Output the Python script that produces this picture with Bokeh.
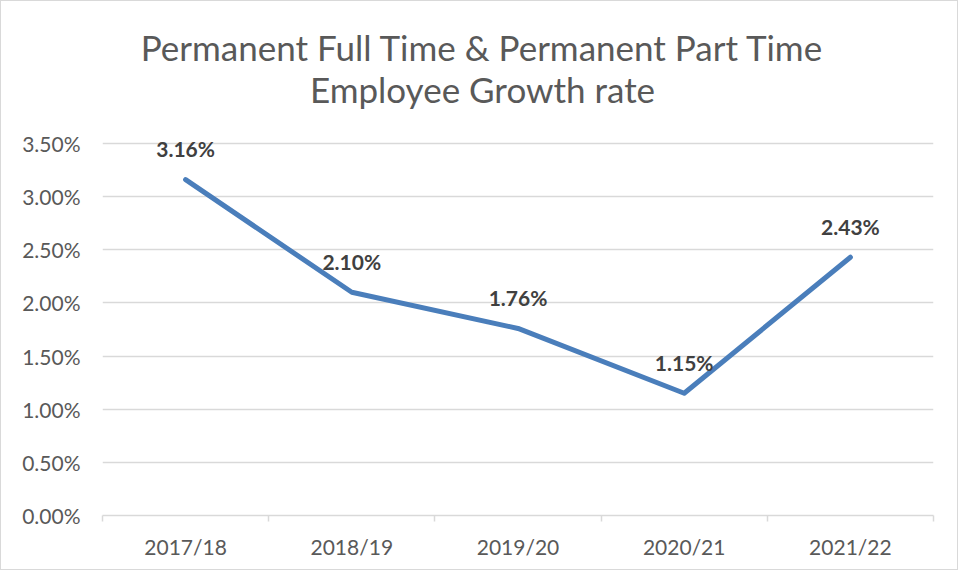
from bokeh.plotting import figure
from bokeh.models import Range1d, FixedTicker, PrintfTickFormatter, ColumnDataSource, Label
from bokeh.embed import file_html
from bokeh.resources import INLINE
from bokeh.core.properties import value

categories = ["2017/18", "2018/19", "2019/20", "2020/21", "2021/22"]
growth = [3.16, 2.10, 1.76, 1.15, 2.43]
labels = ["3.16%", "2.10%", "1.76%", "1.15%", "2.43%"]
y_ticks = [0, 0.5, 1.0, 1.5, 2.0, 2.5, 3.0, 3.5]
title_lines = ["Permanent Full Time & Permanent Part Time", "Employee Growth rate"]

xs = [i + 0.5 for i in range(len(categories))]
src = ColumnDataSource(dict(x=xs, y=growth, lab=labels))

FONT = "Lato"
W, H = 958, 570
ML, MR, MT, MB = 101, 26, 2, 56
GRID_TOP_PX = 142          # pixel row of the 3.50% gridline
Y_MAX = 3.5

frame_w = W - ML - MR
frame_h = H - MT - MB
value_h = H - MB - GRID_TOP_PX            # pixel height of the 0..3.5 value band
y_end = Y_MAX * frame_h / value_h         # extend range so the title area sits inside the frame

p = figure(width=W, height=H, output_backend="svg", toolbar_location=None,
           x_range=Range1d(0, len(categories)), y_range=Range1d(0, y_end),
           min_border_left=ML, min_border_right=MR, min_border_top=MT, min_border_bottom=MB,
           title=None)
p.styles = {"border": "1px solid #d9d9d9"}
p.outline_line_color = None
p.background_fill_color = "white"
p.border_fill_color = "white"

# title lines, centred on the whole figure
cx = (W / 2 + 2 - ML) / frame_w * len(categories)
for line, center_px in zip(title_lines, [45, 87]):
    ty = Y_MAX + (GRID_TOP_PX - center_px) / value_h * Y_MAX
    p.add_layout(Label(x=cx, y=ty, text=line, text_font=FONT, text_font_size="35px",
                       text_color="#595959", text_align="center", text_baseline="middle"))

p.line("x", "y", source=src, line_color="#4a7ebb", line_width=5, line_join="round", line_cap="round")
p.text("x", "y", text="lab", source=src, text_font=value(FONT), text_font_style="bold",
       text_font_size="21px", text_color="#404040", text_align="center",
       text_baseline="middle", y_offset=-31)

# y axis
p.yaxis.ticker = FixedTicker(ticks=y_ticks)
p.yaxis.formatter = PrintfTickFormatter(format="%.2f%%")
p.yaxis.axis_line_color = None
p.yaxis.major_tick_line_color = None
p.yaxis.minor_tick_line_color = None
p.yaxis.major_label_text_font = FONT
p.yaxis.major_label_text_font_size = "21px"
p.yaxis.major_label_text_color = "#595959"
p.yaxis.major_label_standoff = 16

# x axis: labels at centres, tick marks at boundaries
p.xaxis.ticker = FixedTicker(ticks=xs, minor_ticks=list(range(len(categories) + 1)))
p.xaxis.major_label_overrides = {x: c for x, c in zip(xs, categories)}
p.xaxis.axis_line_color = "#d9d9d9"
p.xaxis.axis_line_width = 1.5
p.xaxis.major_tick_line_color = None
p.xaxis.minor_tick_line_color = "#d9d9d9"
p.xaxis.minor_tick_line_width = 1.5
p.xaxis.minor_tick_in = 0
p.xaxis.minor_tick_out = 6
p.xaxis.major_label_text_font = FONT
p.xaxis.major_label_text_font_size = "21px"
p.xaxis.major_label_text_color = "#595959"
p.xaxis.major_label_standoff = 12

p.xgrid.grid_line_color = None
p.ygrid.ticker = FixedTicker(ticks=y_ticks)
p.ygrid.grid_line_color = "#d9d9d9"
p.ygrid.grid_line_width = 1.5

open("out.html", "w").write(file_html(p, INLINE))
